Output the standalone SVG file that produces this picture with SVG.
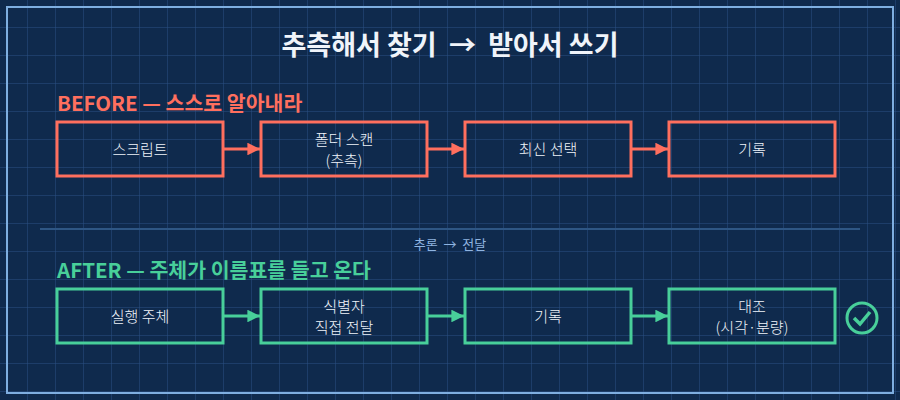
<svg xmlns="http://www.w3.org/2000/svg" width="900" height="400" viewBox="0 0 900 400">
<defs>
<pattern id="g" width="28" height="28" patternUnits="userSpaceOnUse"><path d="M28 0V28M0 28H28" fill="none" stroke="#2a5084" stroke-width="1"/></pattern>
<marker id="ar" viewBox="0 0 10 10" refX="10" refY="5" markerWidth="4.2" markerHeight="4.2" orient="auto"><path d="M0 0L10 5L0 10z" fill="#ff6f5e"/></marker>
<marker id="ag" viewBox="0 0 10 10" refX="10" refY="5" markerWidth="4.2" markerHeight="4.2" orient="auto"><path d="M0 0L10 5L0 10z" fill="#48cf9a"/></marker>
<style>
text{font-family:"Noto Sans CJK KR","Noto Sans",sans-serif;fill:#f0f4fa;text-anchor:middle;white-space:pre}
.n{font-size:15px;font-weight:300}
.b rect{fill:none;stroke:#ff6f5e;stroke-width:3}
.a rect{fill:none;stroke:#48cf9a;stroke-width:3}
.cr{stroke:#ff6f5e;stroke-width:3;fill:none;marker-end:url(#ar)}
.cg{stroke:#48cf9a;stroke-width:3;fill:none;marker-end:url(#ag)}
</style>
</defs>
<rect width="900" height="400" fill="#0f2a4d"/>
<rect width="900" height="400" fill="url(#g)"/>
<rect x="7" y="7" width="886" height="386" fill="none" stroke="#7eaee0" stroke-width="2"/>
<text x="450" y="55" font-size="27" font-weight="bold" xml:space="preserve">추측해서 찾기  →  받아서 쓰기</text>
<text x="57" y="111" font-size="20.5" font-weight="bold" style="fill:#ff6f5e;text-anchor:start">BEFORE — 스스로 알아내라</text>
<line x1="40" y1="229" x2="860" y2="229" stroke="#2e5684" stroke-width="2"/>
<text x="450" y="249" font-size="13" style="fill:#8fb4e0" xml:space="preserve">추론  →  전달</text>
<text x="57" y="278" font-size="20.5" font-weight="bold" style="fill:#48cf9a;text-anchor:start">AFTER — 주체가 이름표를 들고 온다</text>
<g id="b1" class="b"><rect x="57" y="122" width="166" height="54"/><text class="n" x="140" y="155">스크립트</text></g>
<g id="b2" class="b"><rect x="261" y="122" width="166" height="54"/><text class="n" x="344" y="145">폴더 스캔</text><text class="n" x="344" y="166">(추측)</text></g>
<g id="b3" class="b"><rect x="465" y="122" width="166" height="54"/><text class="n" x="548" y="155">최신 선택</text></g>
<g id="b4" class="b"><rect x="669" y="122" width="166" height="54"/><text class="n" x="752" y="155">기록</text></g>
<g id="a1" class="a"><rect x="57" y="289" width="166" height="54"/><text class="n" x="140" y="322">실행 주체</text></g>
<g id="a2" class="a"><rect x="261" y="289" width="166" height="54"/><text class="n" x="344" y="312">식별자</text><text class="n" x="344" y="333">직접 전달</text></g>
<g id="a3" class="a"><rect x="465" y="289" width="166" height="54"/><text class="n" x="548" y="322">기록</text></g>
<g id="a4" class="a"><rect x="669" y="289" width="166" height="54"/><text class="n" x="752" y="312">대조</text><text class="n" x="752" y="333">(시각·분량)</text></g>
<g id="check"><circle cx="862" cy="318" r="15" fill="none" stroke="#48cf9a" stroke-width="3"/><path d="M854 318l6 6l10-12" fill="none" stroke="#48cf9a" stroke-width="3.5"/></g>
<g id="connectors">
<path class="cr" d="M224 149H260"/><path class="cr" d="M428 149H464"/><path class="cr" d="M632 149H668"/>
<path class="cg" d="M224 316H260"/><path class="cg" d="M428 316H464"/><path class="cg" d="M632 316H668"/>
</g>
</svg>
